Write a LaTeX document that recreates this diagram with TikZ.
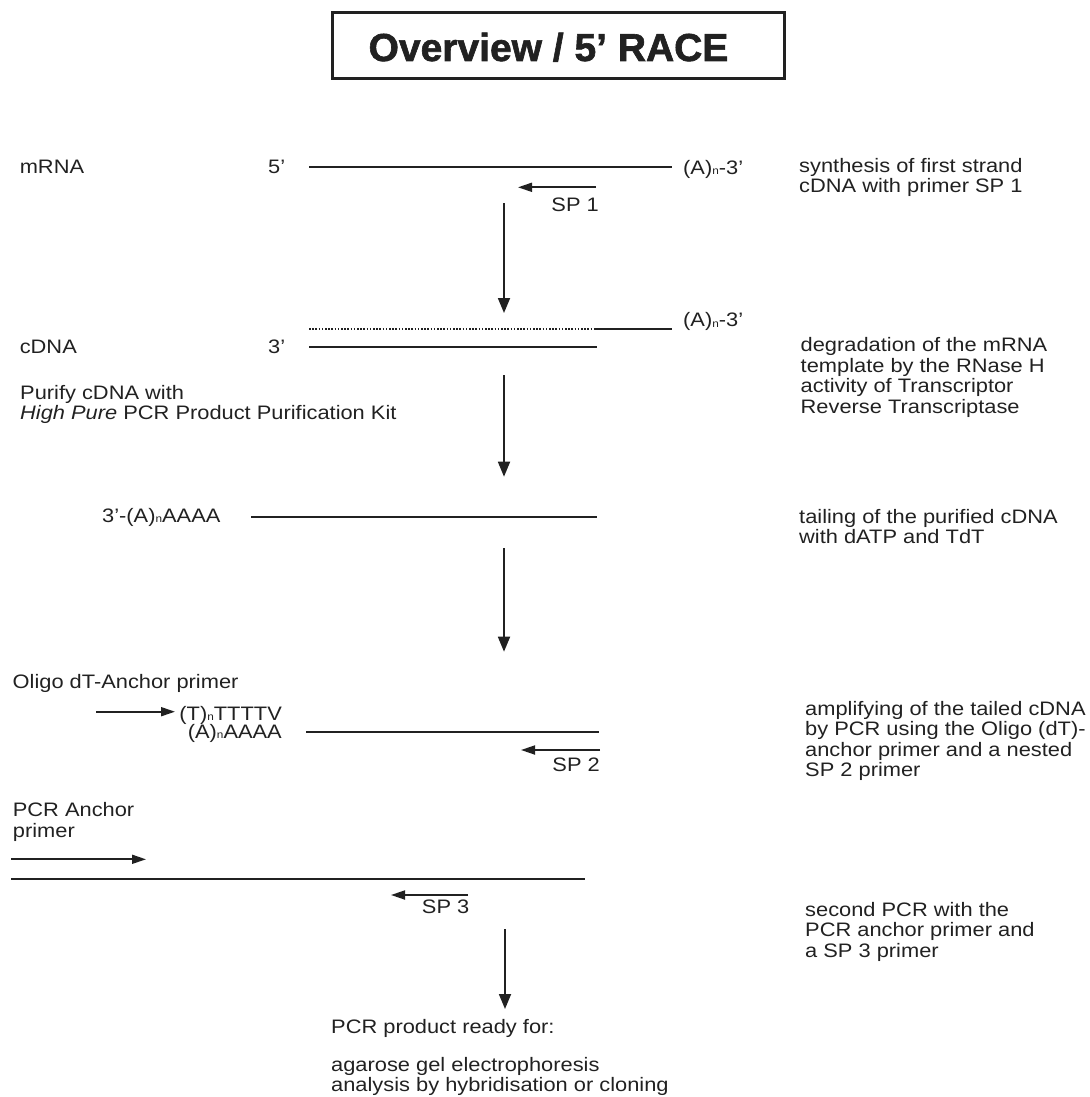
\documentclass[tikz,border=0pt]{standalone}
\usepackage{fontspec}
\setmainfont[FakeStretch=1.12]{Liberation Sans}
\newfontfamily\titlefont[FakeBold=1.6]{Liberation Sans Bold}
\usetikzlibrary{arrows.meta}
\definecolor{ink}{gray}{0.13}
\newcommand{\subn}{\raisebox{-0.5pt}{\fontsize{10.5}{10.5}\selectfont n}}
\newcommand{\blk}[1]{\parbox[t]{440pt}{\raggedright #1}}
\tikzset{
  txt/.style={anchor=base west, inner sep=0pt, text=ink, font=\fontsize{19.5}{20.5}\selectfont},
  txtr/.style={txt, anchor=base east},
  strand/.style={line width=2pt, draw=ink},
  degraded/.style={line width=1.8pt, draw=ink, dash pattern=on 1.6pt off 1.6pt},
  primer/.style={line width=1.8pt, draw=ink, -{Triangle[length=14pt,width=9pt]}},
  downarrow/.style={line width=1.8pt, draw=ink, -{Triangle[length=15pt,width=12pt]}}
}
\begin{document}
\begin{tikzpicture}[x=1pt,y=-1pt]
\useasboundingbox (0,0) rectangle (1089,1097);
% title
\node[draw=ink, line width=3pt, minimum width=452pt, minimum height=66pt, inner sep=0pt] (titlebox) at (558,46) {};
\node[anchor=base, inner sep=0pt, text=ink, font=\titlefont\fontsize{39}{39}\selectfont] (title) at (548.5,61) {Overview / 5’ RACE};

% row 1: mRNA
\node[txt] (lmrna) at (19.6,173.3) {mRNA};
\node[txt] (five) at (268,173.3) {5’};
\coordinate (m1) at (309,167.3);
\coordinate (m2) at (671.5,167.3);
\draw[strand] (m1) -- (m2);
\node[txt] (polyA1) at (683,174) {(A)\subn-3’};
\coordinate (sp1a) at (596,187.3);
\coordinate (sp1b) at (518,187.3);
\draw[primer] (sp1a) -- (sp1b);
\node[txtr] (sp1) at (599,211.7) {SP 1};
\node[txt] (d1) at (799,172.3) {\blk{synthesis of first strand\\cDNA with primer SP 1}};
\coordinate (a1s) at (504,203);
\coordinate (a1e) at (504,313);
\draw[downarrow] (a1s) -- (a1e);

% row 2: cDNA
\coordinate (r1) at (309,329.3);
\coordinate (r2) at (594,329.3);
\coordinate (r3) at (671.5,329.3);
\draw[degraded] (r1) -- (r2);
\draw[strand] (r2) -- (r3);
\node[txt] (polyA2) at (683,326.7) {(A)\subn-3’};
\node[txt] (lcdna) at (19.6,353.3) {cDNA};
\node[txt] (three) at (268,353.3) {3’};
\coordinate (c1) at (309,347.3);
\coordinate (c2) at (597,347.3);
\draw[strand] (c1) -- (c2);
\node[txt] (purify) at (20,399.3) {\blk{Purify cDNA with\\\textit{High Pure} PCR Product Purification Kit}};
\node[txt] (d2) at (800.5,351.7) {\blk{degradation of the mRNA\\template by the RNase H\\activity of Transcriptor\\Reverse Transcriptase}};
\coordinate (a2s) at (504,375);
\coordinate (a2e) at (504,476.7);
\draw[downarrow] (a2s) -- (a2e);

% row 3: tailing
\node[txt] (tail) at (102,522.3) {3’-(A)\subn AAAA};
\coordinate (t1) at (251,516.7);
\coordinate (t2) at (597,516.7);
\draw[strand] (t1) -- (t2);
\node[txt] (d3) at (799,523) {\blk{tailing of the purified cDNA\\with dATP and TdT}};
\coordinate (a3s) at (504,548.3);
\coordinate (a3e) at (504,651.7);
\draw[downarrow] (a3s) -- (a3e);

% row 4: first PCR
\node[txt] (oligo) at (12.5,688.3) {Oligo dT-Anchor primer};
\coordinate (oa) at (96,711.7);
\coordinate (ob) at (175,711.7);
\draw[primer] (oa) -- (ob);
\node[txtr] (tseq) at (282,720) {(T)\subn TTTTV};
\node[txtr] (aseq) at (282,738.3) {(A)\subn AAAA};
\coordinate (p1) at (306,732.3);
\coordinate (p2) at (599,732.3);
\draw[strand] (p1) -- (p2);
\coordinate (sp2a) at (600,750);
\coordinate (sp2b) at (521,750);
\draw[primer] (sp2a) -- (sp2b);
\node[txtr] (sp2) at (600,771.7) {SP 2};
\node[txt] (d4) at (805,715) {\blk{amplifying of the tailed cDNA\\by PCR using the Oligo (dT)-\\anchor primer and a nested\\SP 2 primer}};

% row 5: second PCR
\node[txt] (pcranchor) at (12.7,816.7) {\blk{PCR Anchor\\primer}};
\coordinate (pa) at (11,859.3);
\coordinate (pb) at (146,859.3);
\draw[primer] (pa) -- (pb);
\coordinate (q1) at (11,878.7);
\coordinate (q2) at (585,878.7);
\draw[strand] (q1) -- (q2);
\coordinate (sp3a) at (468,895);
\coordinate (sp3b) at (391,895);
\draw[primer] (sp3a) -- (sp3b);
\node[txtr] (sp3) at (469.5,913.3) {SP 3};
\node[txt] (d5) at (805,916) {\blk{second PCR with the\\PCR anchor primer and\\a SP 3 primer}};
\coordinate (a4s) at (505,929);
\coordinate (a4e) at (505,1009);
\draw[downarrow] (a4s) -- (a4e);

% product
\node[txt] (ready) at (331,1033) {PCR product ready for:};
\node[txt] (uses) at (331,1071) {\blk{agarose gel electrophoresis\\analysis by hybridisation or cloning}};
\end{tikzpicture}
\end{document}
